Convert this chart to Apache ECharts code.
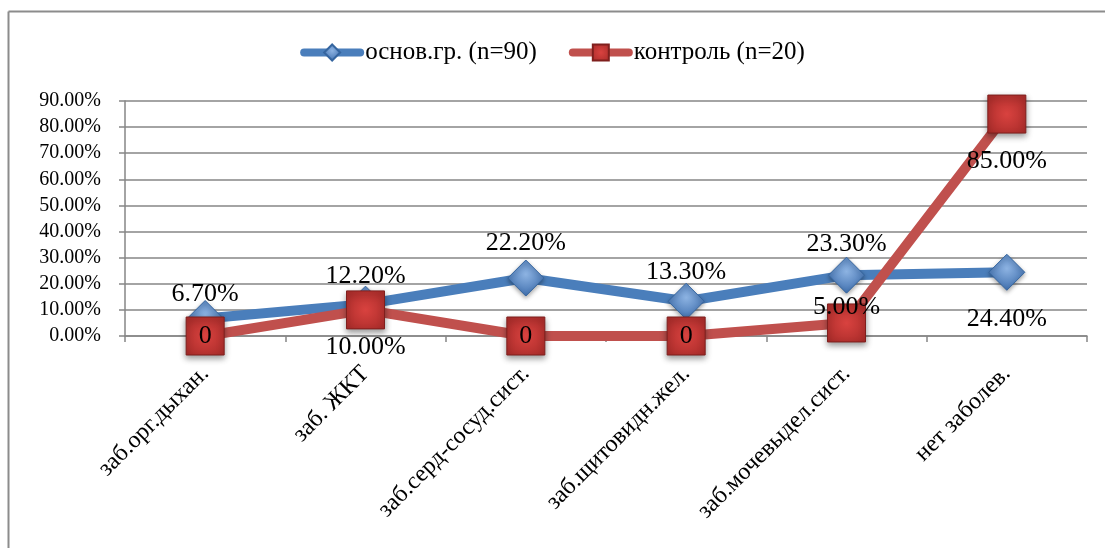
<!DOCTYPE html>
<html><head><meta charset="utf-8">
<script src="https://cdn.jsdelivr.net/npm/echarts@6/dist/echarts.min.js"></script>
<style>html,body{margin:0;padding:0;background:#fff}#c{width:1105px;height:548px}</style>
</head><body><div id="c"></div>
<script>
const categories = ['заб.орг.дыхан.', 'заб. ЖКТ', 'заб.серд-сосуд.сист.', 'заб.щитовидн.жел.', 'заб.мочевыдел.сист.', 'нет заболев.'];
const seriesNames = ['основ.гр. (n=90)', 'контроль (n=20)'];
const mainValues = [0.067, 0.122, 0.222, 0.133, 0.233, 0.244];
const controlValues = [0, 0.10, 0, 0, 0.05, 0.85];
const mainLabels = ['6.70%', '12.20%', '22.20%', '13.30%', '23.30%', '24.40%'];
const controlLabels = ['0', '10.00%', '0', '0', '5.00%', '85.00%'];
const yTicks = [0, 0.1, 0.2, 0.3, 0.4, 0.5, 0.6, 0.7, 0.8, 0.9];

const FONT = '"Liberation Serif", "DejaVu Serif", serif';
const mainPos = [['top', [0, 12]], ['top', [0, 9]], ['top', [0, 2]], ['top', [0, 7]], ['top', [0, 6]], ['bottom', [0, 10]]];
const ctrlPos = [['inside', [0, 0]], ['bottom', [0, 0]], ['inside', [0, 0]], ['inside', [0, 0]], ['top', [0, 22]], ['bottom', [0, 10]]];

function build(vals, labels, pos) {
  return vals.map((v, i) => ({
    value: v,
    label: { show: true, formatter: labels[i], position: pos[i][0], offset: pos[i][1] }
  }));
}

const chart = echarts.init(document.getElementById('c'), null, { renderer: 'canvas' });
chart.setOption({
  animation: false,
  backgroundColor: '#fff',
  textStyle: { fontFamily: FONT },
  graphic: [
    { type: 'line', shape: { x1: 8.5, y1: 11.5, x2: 1105, y2: 11.5 }, style: { stroke: '#8c8c8c', lineWidth: 2 } },
    { type: 'line', shape: { x1: 8.5, y1: 11.5, x2: 8.5, y2: 548 }, style: { stroke: '#8c8c8c', lineWidth: 2 } }
  ],
  legend: {
    top: 35, left: 'center',
    itemWidth: 56, itemHeight: 20, itemGap: 32,
    textStyle: { fontFamily: FONT, fontSize: 25, color: '#000' },
    lineStyle: { width: 8, cap: 'round' },
    data: seriesNames
  },
  grid: { left: 125, right: 18, top: 101, bottom: 212, containLabel: false },
  xAxis: {
    type: 'category', data: categories, boundaryGap: true,
    axisLine: { lineStyle: { color: '#868686', width: 1.5 } },
    axisTick: { show: true, alignWithLabel: false, length: 6, lineStyle: { color: '#868686', width: 1.5 } },
    axisLabel: { rotate: 45, margin: 34, interval: 0, fontFamily: FONT, fontSize: 24, color: '#000' }
  },
  yAxis: {
    type: 'value', min: 0, max: 0.9, interval: 0.1,
    axisLine: { show: true, lineStyle: { color: '#868686', width: 1.5 } },
    axisTick: { show: true, length: 6, lineStyle: { color: '#868686', width: 1.5 } },
    splitLine: { lineStyle: { color: '#868686', width: 1.5 } },
    axisLabel: { margin: 24, fontFamily: FONT, fontSize: 20, color: '#000',
      formatter: v => { const i = yTicks.findIndex(t => Math.abs(t - v) < 1e-9); return (yTicks[i] * 100).toFixed(2) + '%'; } }
  },
  series: [
    {
      name: seriesNames[0], type: 'line', data: build(mainValues, mainLabels, mainPos),
      symbol: 'diamond', symbolSize: 36,
      lineStyle: { color: '#4A7EBB', width: 10 },
      itemStyle: {
        color: new echarts.graphic.RadialGradient(0.5, 0.4, 0.6, [{ offset: 0, color: '#8DB3E2' }, { offset: 1, color: '#3F6FAE' }]),
        borderColor: '#35659f', borderWidth: 1, shadowBlur: 4, shadowColor: 'rgba(0,0,0,0.35)', shadowOffsetY: 2
      },
      label: { fontFamily: FONT, fontSize: 26, color: '#000' },
      z: 2
    },
    {
      name: seriesNames[1], type: 'line', data: build(controlValues, controlLabels, ctrlPos),
      symbol: 'rect', symbolSize: 38,
      lineStyle: { color: '#C0504D', width: 10 },
      itemStyle: {
        color: new echarts.graphic.RadialGradient(0.5, 0.5, 0.7, [{ offset: 0, color: '#D9423F' }, { offset: 1, color: '#A52A28' }]),
        borderColor: '#7f1f1d', borderWidth: 1, shadowBlur: 6, shadowColor: 'rgba(0,0,0,0.4)', shadowOffsetY: 3
      },
      label: { fontFamily: FONT, fontSize: 26, color: '#000' },
      z: 3
    }
  ]
});
</script></body></html>
